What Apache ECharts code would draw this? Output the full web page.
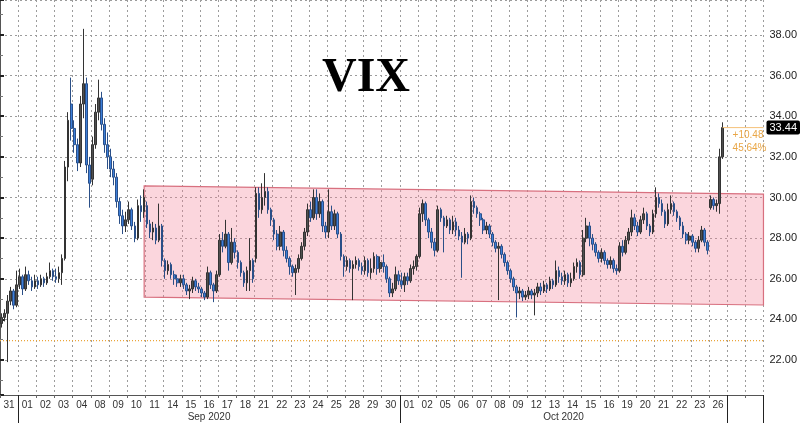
<!DOCTYPE html>
<html><head><meta charset="utf-8">
<script src="https://cdn.jsdelivr.net/npm/echarts/dist/echarts.min.js"></script>
<style>html,body{margin:0;padding:0;background:#fff}#c{width:800px;height:423px}</style>
</head><body><div id="c"></div>
<script>
// ---- data ----
const dayLabels = ['31','01','02','03','04','08','09','10','11','14','15','16','17','18','21','22','23','24','25','28','29','30',
  '01','02','05','06','07','08','09','12','13','14','15','16','19','20','21','22','23','26','',''];
const monthLabels = ['Sep 2020','Oct 2020'];
const monthStarts = [1, 22, 40];          // category index where each month starts (last = end of Oct)
const barsPerDay = 6;
// candles: [open, close, low, high], 6 per trading day
const sepCandles = [
 [23.8,24.1,23.6,24.3],[24.1,24.3,23.9,24.5],[24.3,24.9,21.9,25.2],[24.9,25.4,24.7,25.6],[25.4,24.7,24.5,25.5],[24.7,25.7,24.6,26.4],
 [25.7,26.1,25.5,26.5],[26.1,25.5,25.2,26.2],[25.5,26.2,25.4,26.6],[26.2,25.9,25.7,26.4],[25.9,25.6,25.4,26.1],[25.6,25.9,25.5,26.2],
 [25.9,25.7,25.5,26.1],[25.7,26.0,25.6,26.2],[26.0,25.8,25.6,26.1],[25.8,26.1,25.7,26.3],[26.1,26.4,26.0,26.8],[26.4,26.1,25.9,26.5],
 [26.1,26.0,25.8,26.5],[26.0,26.3,25.8,26.6],[26.3,27.0,25.7,27.2],[27.0,31.5,26.9,31.8],[31.5,33.8,30.8,34.2],[34.6,33.4,32.8,35.9],
 [33.4,32.6,32.2,33.8],[32.6,31.7,31.3,32.9],[31.7,34.6,31.5,35.0],[34.6,35.6,33.9,38.3],[35.6,31.6,31.2,35.9],[31.6,30.7,29.5,32.0],
 [30.9,32.6,30.6,33.0],[32.6,34.2,32.4,34.6],[34.2,34.9,33.8,35.8],[34.9,33.6,33.3,35.2],[33.6,32.6,32.2,33.9],[32.6,32.0,31.4,33.2],
 [32.0,31.4,31.0,32.4],[31.4,31.0,30.6,31.8],[31.0,29.8,29.5,31.2],[29.8,29.1,28.7,30.0],[29.1,28.6,28.2,29.4],[28.6,28.9,28.3,29.3],
 [28.9,29.4,28.7,29.8],[29.4,28.6,28.4,29.5],[28.6,28.0,27.8,28.8],[28.0,29.6,27.9,29.9],[29.6,29.3,28.8,30.1],[29.3,30.0,29.0,30.4],
 [29.6,28.7,28.5,29.8],[28.7,28.3,28.0,28.9],[28.3,28.5,27.9,28.8],[28.5,27.9,27.7,28.7],[27.9,28.6,27.8,29.7],[28.6,26.9,26.6,28.7],
 [26.9,26.4,26.0,27.0],[26.4,26.7,26.2,26.9],[26.7,26.2,26.0,26.8],[26.2,26.0,25.7,26.4],[26.0,25.8,25.6,26.2],[25.8,26.0,25.6,26.2],
 [26.0,25.7,25.5,26.2],[25.7,25.4,25.2,25.8],[25.4,25.5,25.0,25.7],[25.5,25.9,25.3,26.1],[25.9,25.6,25.4,26.0],[25.6,25.5,25.3,25.8],
 [25.5,25.3,25.1,25.6],[25.3,25.1,24.95,25.4],[25.1,26.3,25.0,26.6],[26.3,25.7,25.5,26.4],[25.7,25.4,24.85,25.8],[25.4,26.2,25.3,26.4],
 [26.2,27.9,26.1,28.2],[27.9,27.6,27.3,28.3],[27.6,28.2,27.5,28.9],[28.2,26.8,26.4,28.3],[26.8,27.8,26.7,28.5],[27.8,27.3,27.0,28.0],
 [27.3,26.8,26.5,27.4],[26.8,26.3,26.1,26.9],[26.3,25.8,25.6,26.4],[25.8,26.4,25.4,26.6],[26.4,26.9,25.4,28.0],[26.9,26.0,25.8,27.0],
 [27.0,30.2,26.8,30.5],[30.2,29.4,29.0,30.5],[29.4,30.0,29.2,30.7],[30.0,30.3,29.6,31.2],[30.3,29.4,29.2,30.5],[29.4,28.9,28.6,29.5],
 [28.9,28.2,27.9,29.0],[28.2,27.6,27.4,28.4],[27.6,28.3,27.4,28.6],[28.3,27.4,27.1,28.4],[27.4,27.0,26.8,27.6],[27.0,26.6,26.2,27.1],
 [26.6,26.3,26.1,26.7],[26.3,26.5,25.2,26.7],[26.5,27.0,26.3,27.2],[27.0,27.6,26.9,27.8],[27.6,28.3,27.4,28.5],[28.3,29.4,28.1,29.7],
 [29.4,29.0,28.8,29.8],[29.0,30.0,28.9,30.4],[30.0,29.2,28.9,30.4],[29.2,29.8,29.0,30.2],[29.8,28.6,28.3,29.9],[28.6,28.3,28.0,28.8],
 [28.3,29.3,28.0,30.4],[29.3,28.6,28.4,29.6],[28.6,29.2,28.4,29.4],[29.2,28.2,28.0,29.3],[28.2,27.1,26.9,28.3],[27.1,26.6,26.1,27.2],
 [26.6,26.9,26.4,27.1],[26.9,26.5,26.3,27.0],[26.5,26.7,24.95,26.9],[26.7,26.9,26.5,27.1],[26.9,26.6,26.4,27.0],[26.6,26.4,26.2,26.8],
 [26.4,26.9,26.2,27.1],[26.9,26.3,26.1,27.0],[26.3,26.5,26.0,27.0],[26.5,27.1,26.3,27.3],[27.1,26.5,26.2,27.2],[26.5,26.8,26.3,27.1],
 [26.8,26.6,26.3,27.2],[26.6,26.0,25.8,26.7],[26.0,25.3,25.1,26.1],[25.3,25.5,25.1,25.8],[25.5,26.2,25.4,26.6],[26.2,25.9,25.7,26.4]
];
const octCandles = [
 [25.9,25.7,25.5,26.3],[25.7,26.1,25.35,26.3],[26.1,25.9,25.7,26.3],[25.9,26.5,25.8,26.7],[26.5,26.6,26.2,26.9],[26.6,27.1,26.4,27.2],
 [27.1,29.2,27.0,29.5],[29.2,29.7,28.8,29.9],[29.7,28.9,28.6,29.8],[28.9,28.3,28.0,29.0],[28.3,27.8,27.5,28.5],[27.8,27.4,27.1,28.0],
 [27.4,29.4,27.3,29.6],[29.4,29.0,28.8,29.5],[29.0,28.6,27.3,29.1],[28.6,28.9,28.5,29.1],[28.9,28.4,28.2,29.0],[28.4,28.8,28.2,29.1],
 [28.8,28.4,28.1,29.0],[28.4,28.1,27.9,28.6],[28.1,27.8,26.05,28.3],[27.8,28.2,27.7,28.5],[28.2,28.0,27.7,28.3],[28.0,29.8,27.9,30.1],
 [29.8,29.5,29.2,30.0],[29.5,29.2,29.0,29.6],[29.2,28.9,28.6,29.3],[28.9,28.4,28.2,29.0],[28.4,28.6,28.2,28.8],[28.6,28.2,28.0,28.7],
 [28.2,27.8,27.6,28.3],[27.8,27.5,27.3,27.9],[27.5,27.6,24.95,27.8],[27.6,27.2,27.0,27.7],[27.2,26.8,26.6,27.3],[26.8,26.4,26.2,26.9],
 [26.4,26.0,25.8,26.5],[26.0,25.6,25.4,26.1],[25.6,25.3,24.1,25.7],[25.3,25.4,25.0,25.6],[25.4,25.1,24.9,25.5],[25.1,25.2,24.95,25.4],
 [25.2,25.4,25.0,25.6],[25.4,25.2,25.0,25.5],[25.2,25.3,24.2,25.5],[25.3,25.6,25.1,25.8],[25.6,25.4,25.2,25.8],[25.4,25.7,25.3,25.9],
 [25.7,25.5,25.3,25.8],[25.5,25.9,25.4,26.1],[25.9,25.7,25.5,26.0],[25.7,26.4,25.6,26.9],[26.4,26.1,25.8,26.6],[26.1,25.9,25.7,26.3],
 [25.9,26.2,25.7,26.4],[26.2,25.8,25.6,26.3],[25.8,26.0,25.6,26.3],[26.0,26.6,25.9,26.8],[26.6,26.8,26.3,27.0],[26.8,26.2,26.0,26.9],
 [26.2,28.0,26.1,28.4],[28.0,28.6,27.8,29.0],[28.6,28.0,27.6,28.8],[28.0,27.7,27.4,28.2],[27.7,27.3,27.1,27.8],[27.3,27.0,26.8,27.4],
 [27.0,27.3,26.8,27.5],[27.3,26.9,26.7,27.4],[26.9,26.7,26.5,27.0],[26.7,26.9,26.5,27.1],[26.9,26.5,26.3,27.0],[26.5,26.4,26.2,26.7],
 [26.4,27.6,26.3,27.8],[27.6,27.3,27.1,27.9],[27.3,27.9,27.2,28.1],[27.9,28.3,27.7,28.5],[28.3,29.0,28.1,29.4],[29.0,28.6,28.4,29.2],
 [28.6,28.3,28.1,28.8],[28.3,28.9,28.2,29.1],[28.9,29.2,28.7,29.5],[29.2,28.6,28.4,29.3],[28.6,28.3,28.1,28.7],[28.3,29.2,28.2,29.4],
 [29.2,30.0,29.0,30.5],[30.0,29.7,29.5,30.2],[29.7,29.3,29.1,29.9],[29.3,28.7,28.5,29.4],[28.7,29.4,28.6,29.7],[29.4,29.7,29.2,30.1],
 [29.7,29.3,29.1,29.8],[29.3,29.0,28.8,29.4],[29.0,28.6,28.4,29.1],[28.6,28.2,28.0,28.8],[28.2,27.9,27.7,28.3],[27.9,28.1,27.7,28.3],
 [28.1,27.8,27.6,28.2],[27.8,27.5,27.3,27.9],[27.5,27.9,27.3,28.1],[27.9,28.4,27.8,28.6],[28.4,27.8,27.6,28.5],[27.8,27.4,27.2,27.9],
 [29.5,29.9,29.4,30.1],[29.9,29.6,29.4,30.0],[29.6,29.7,29.3,29.9],[29.7,32.0,29.2,32.4],[32.0,33.44,31.9,33.7]
];
const prevClose = 22.96;
const lastPrice = 33.44;
const changeText = ['+10.48', '45.64%'];
// trend channel (x in trading-day units, y in VIX points)
const channelTop = [[7.93, 30.57], [42, 30.17]];
const channelBottom = [[42, 24.71], [7.93, 25.10]];
const yTicks = {min: 20.28, max: 39.72, split: 9};

// ---- build ----
const candles = sepCandles.concat(octCandles);
const nSlots = dayLabels.length * barsPerDay;
const candleSlots = [];
const candleData = [];
for (let i = 0; i < nSlots; i++) { candleSlots.push(String(i)); candleData.push(i < candles.length ? candles[i] : '-'); }
const lastX = (candles.length - 0.5) / barsPerDay;
const channelPts = channelTop.concat(channelBottom);
const nDays = dayLabels.length;

const chart = echarts.init(document.getElementById('c'));
const font = 'Liberation Sans';
const gridLine = {color: '#9c9c9c', type: [2, 3], width: 1};
chart.setOption({
  animation: false,
  backgroundColor: '#fff',
  title: {text: 'VIX', left: 322, top: 55, padding: 0, textStyle: {fontFamily: 'Liberation Serif', fontWeight: 'bold', fontSize: 48, color: '#000'}},
  grid: {left: -1, right: 33, top: 0, bottom: 28},
  xAxis: [
    {type: 'category', data: dayLabels, boundaryGap: true, position: 'bottom',
     axisLine: {show: true, lineStyle: {color: '#555'}},
     axisTick: {show: true, interval: 0, length: 3, lineStyle: {color: '#666'}},
     axisLabel: {interval: 0, color: '#333', fontSize: 10, fontFamily: font, margin: 5},
     splitLine: {show: true, interval: 0, lineStyle: gridLine}},
    {type: 'category', data: candleSlots, boundaryGap: true, show: false},
    {type: 'category', data: dayLabels, boundaryGap: true, position: 'bottom',
     axisLine: {show: false}, axisLabel: {show: false}, splitLine: {show: false},
     axisTick: {show: true, length: 28, interval: (i) => monthStarts.indexOf(i) >= 0, lineStyle: {color: '#222', width: 1}}},
    {type: 'value', min: 0, max: nDays, show: false}
  ],
  yAxis: {type: 'value', position: 'right', min: yTicks.min, max: yTicks.max, splitNumber: yTicks.split,
    axisLine: {show: true, lineStyle: {color: '#555'}},
    axisTick: {show: true, length: 4, lineStyle: {color: '#222', width: 2}},
    minorTick: {show: true, splitNumber: 2, length: 3, lineStyle: {color: '#777'}},
    axisLabel: {formatter: (v) => v.toFixed(2), showMinLabel: false, showMaxLabel: false, color: '#222', fontSize: 11, fontFamily: font, margin: 6},
    splitLine: {show: true, lineStyle: gridLine}},
  series: [
    {type: 'custom', xAxisIndex: 3, yAxisIndex: 0, silent: true, z: 1, data: channelPts,
     renderItem: function (params, api) {
       if (params.dataIndex !== 0) return null;
       const pts = channelPts.map(p => api.coord(p));
       return {type: 'polygon', shape: {points: pts}, style: {fill: 'rgba(243,130,152,0.33)', stroke: '#d8707f', lineWidth: 1.2}};
     }},
    {type: 'line', xAxisIndex: 3, yAxisIndex: 0, silent: true, z: 3, symbol: 'none',
     data: [[0, prevClose], [nDays, prevClose]],
     lineStyle: {color: '#eba53a', width: 1.3, type: [1, 2]}},
    {type: 'candlestick', xAxisIndex: 1, yAxisIndex: 0, z: 5, data: candleData, barWidth: '70%',
     itemStyle: {color: '#505050', color0: '#3d7fd9', borderColor: '#333333', borderColor0: '#2a4f88', borderWidth: 1}},
    {type: 'line', xAxisIndex: 3, yAxisIndex: 0, silent: true, z: 6, symbol: 'none',
     data: [[lastX, lastPrice], [nDays, lastPrice]],
     lineStyle: {color: '#f5c27a', width: 1},
     endLabel: {show: true, formatter: lastPrice.toFixed(2), backgroundColor: '#000', color: '#fff', fontSize: 11, fontFamily: font,
       padding: [2, 3, 1, 3], distance: 3, borderRadius: 2}}
  ]
});

const p = chart.convertToPixel({seriesIndex: 3}, [lastX, lastPrice]);
const graphics = [{type: 'text', x: p[0] + 10, y: p[1] + 1,
  style: {text: changeText.join('\n'), fill: '#e9a646', font: '10px ' + font, lineHeight: 13}}];
for (let m = 0; m < monthLabels.length; m++) {
  const c = chart.convertToPixel({seriesIndex: 3}, [(monthStarts[m] + monthStarts[m + 1]) / 2, lastPrice]);
  graphics.push({type: 'text', x: c[0], y: 417,
    style: {text: monthLabels[m], fill: '#333', font: '10px ' + font, align: 'center', verticalAlign: 'middle'}});
}
chart.setOption({graphic: graphics});
</script></body></html>
